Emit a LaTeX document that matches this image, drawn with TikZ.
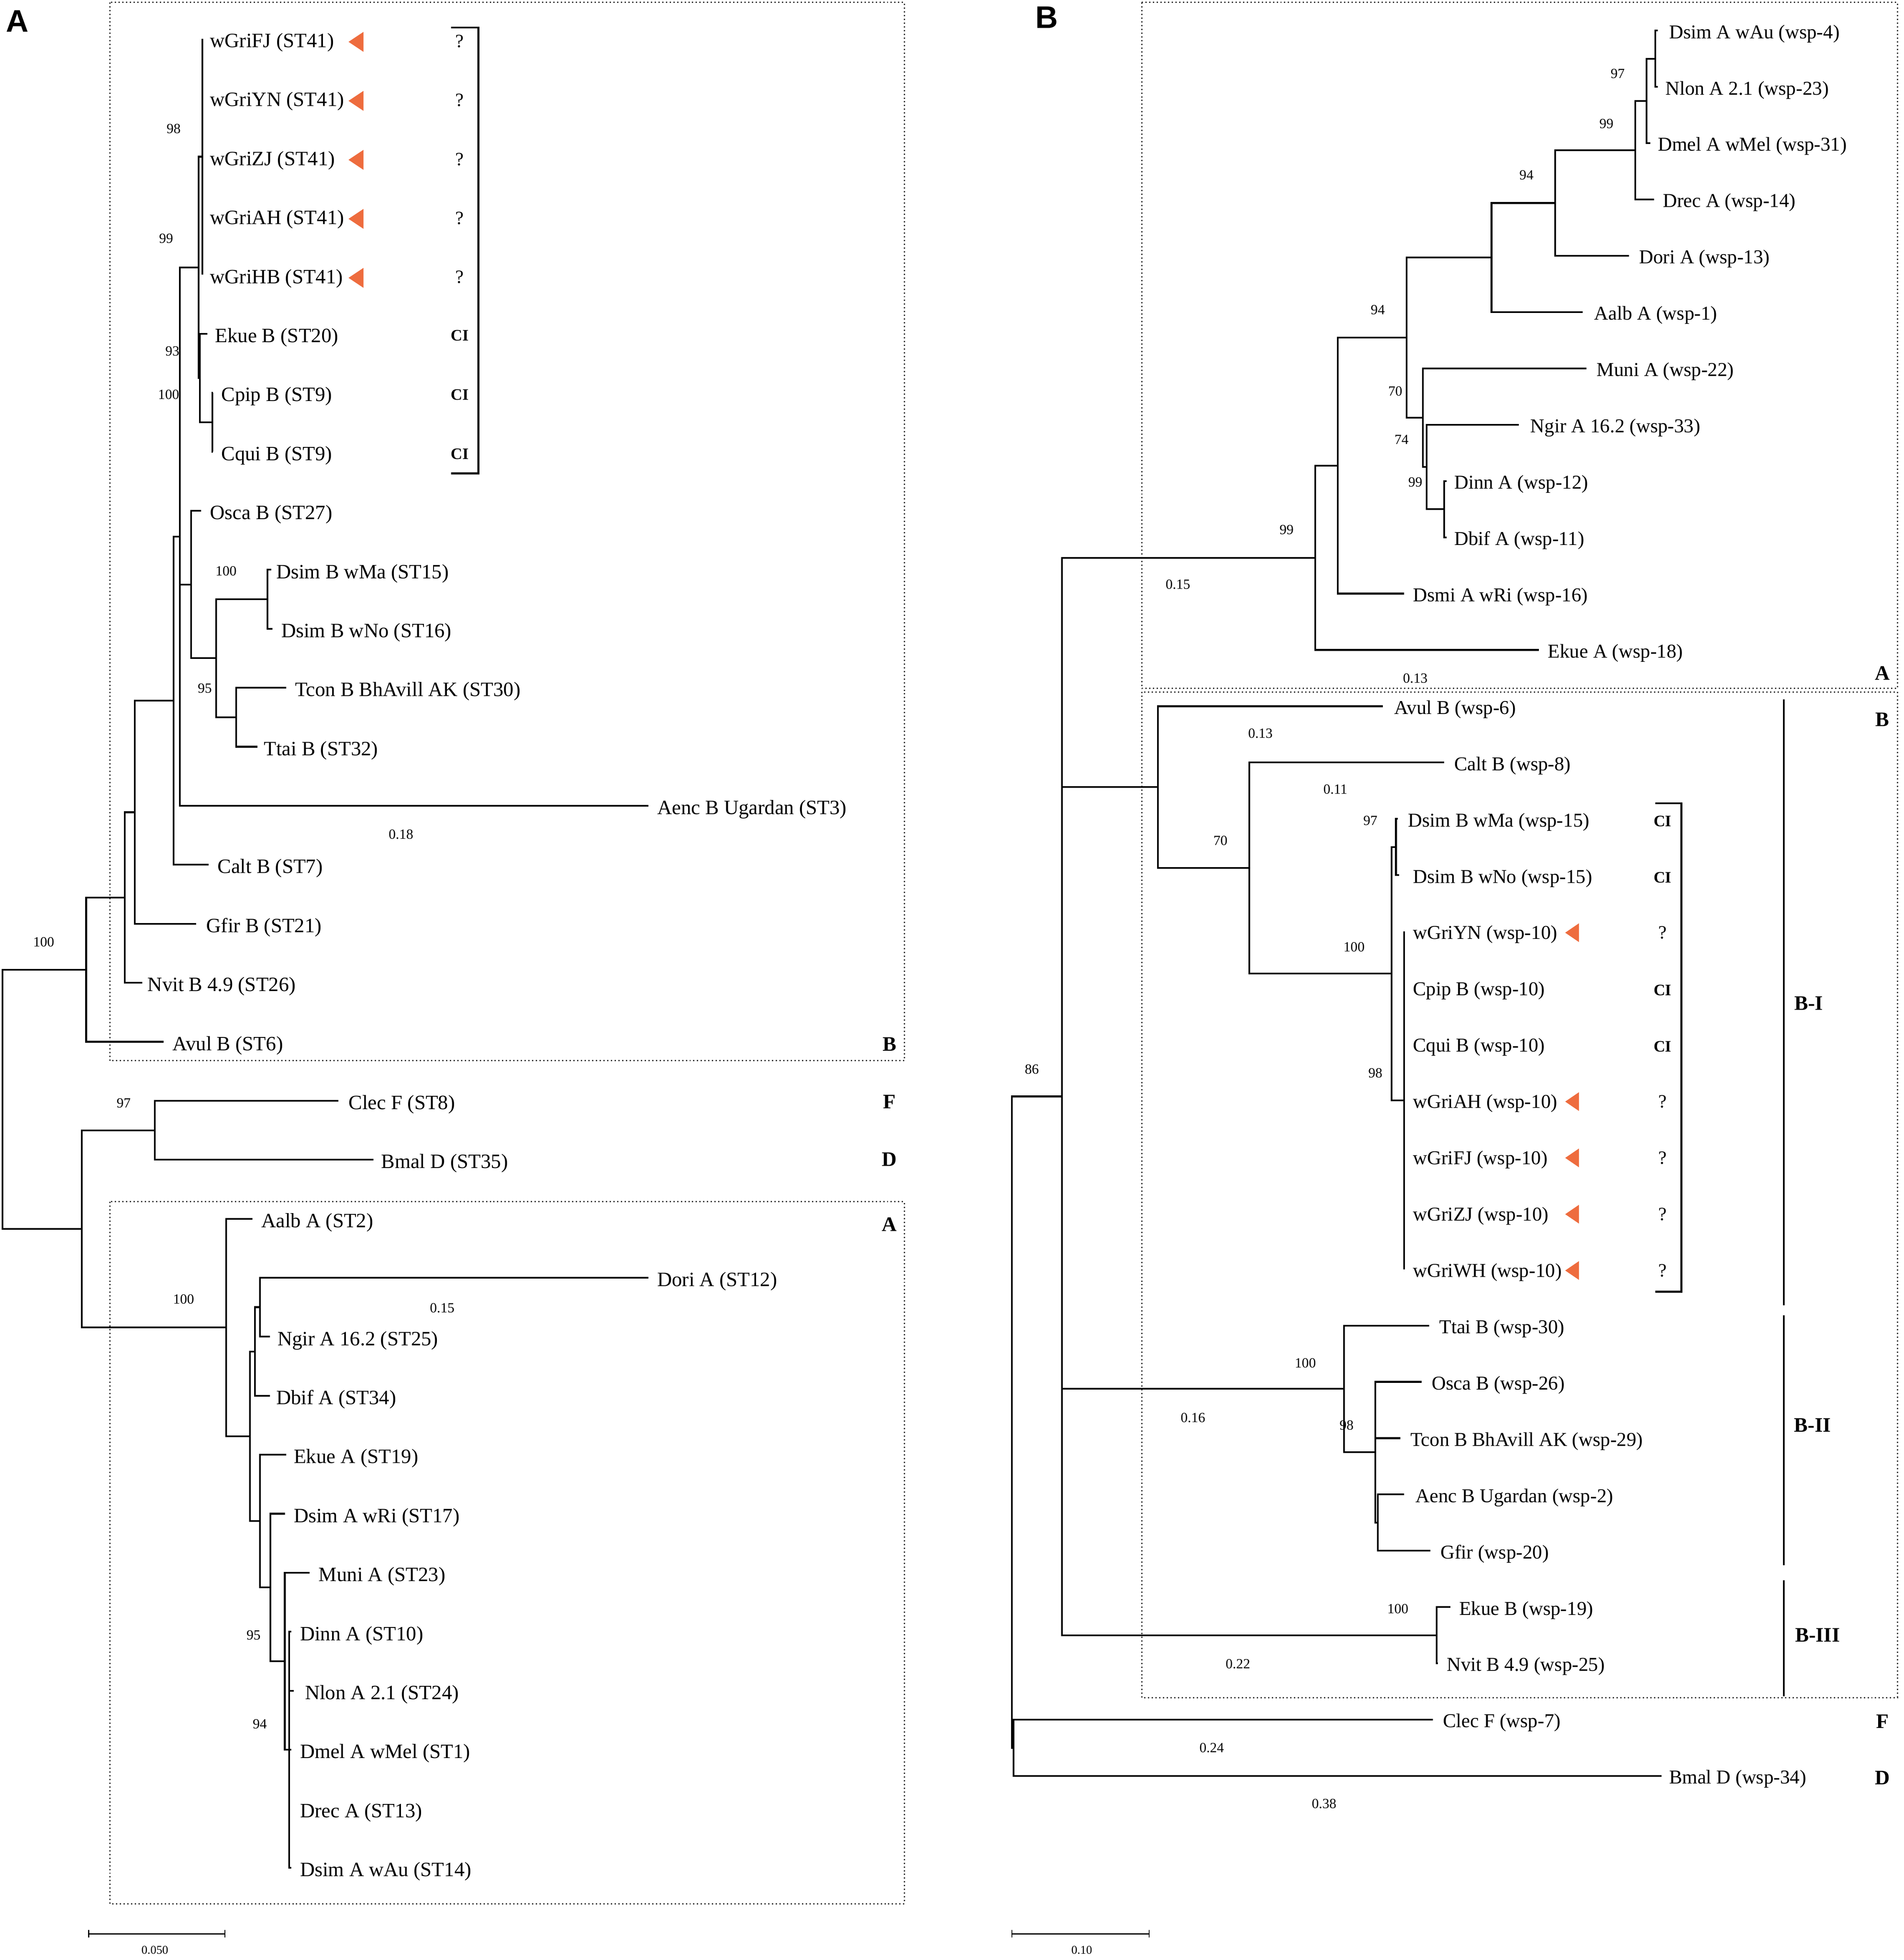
\documentclass[tikz,border=0pt]{standalone}
\usepackage{fontspec}
\setmainfont{Liberation Serif}
\newfontfamily\panelfont{Liberation Sans}
\definecolor{triorange}{HTML}{EE6C3E}
\tikzset{
  br/.style={line width=1.4pt, line join=miter},
  labA/.style={inner sep=0pt, anchor=west, font=\fontsize{16.3}{18}\selectfont},
  labB/.style={inner sep=0pt, anchor=west, font=\fontsize{15.7}{18}\selectfont},
  bs/.style={inner sep=0pt, font=\fontsize{11.2}{12}\selectfont},
  sclab/.style={inner sep=0pt, font=\fontsize{9.5}{10}\selectfont},
  cistyle/.style={inner sep=0pt, font=\bfseries\fontsize{12.8}{14}\selectfont},
  qm/.style={inner sep=0pt, font=\fontsize{15}{16}\selectfont},
  clade/.style={inner sep=0pt, font=\bfseries\fontsize{16.5}{18}\selectfont},
  tri/.style={fill=triorange, draw=none},
  dotbox/.style={line width=1pt, dash pattern=on 1pt off 2pt, draw=black!85},
  brk/.style={line width=1.5pt},
  panellab/.style={inner sep=0pt, font=\panelfont\bfseries\fontsize{25}{26}\selectfont},
}
\newcommand\mkleafA[5]{\coordinate (#1) at (#2,#4); \node[labA] (#1-t) at (#3,#4+3) {#5};}
\newcommand\mkleafB[5]{\coordinate (#1) at (#2,#4); \node[labB] (#1-t) at (#3,#4+2.5) {#5};}
\begin{document}
\begin{tikzpicture}[x=1pt,y=-1pt]
\useasboundingbox (0,0) rectangle (1524,1569);
% ================= PANEL A =================
\node[panellab] (pA) at (14,17) {A};
\draw[dotbox] (88,2) rectangle (724,849);
\draw[dotbox] (88,962) rectangle (724,1524);
% leaves
\mkleafA{aFJ}{162}{168}{31.00}{wGriFJ (ST41)}
\mkleafA{aYN}{162}{168}{78.23}{wGriYN (ST41)}
\mkleafA{aZJ}{162}{168}{125.46}{wGriZJ (ST41)}
\mkleafA{aAH}{162}{168}{172.69}{wGriAH (ST41)}
\mkleafA{aHB}{162}{168}{219.92}{wGriHB (ST41)}
\mkleafA{aEkB}{166}{172}{267.15}{Ekue B (ST20)}
\mkleafA{aCpip}{170.5}{177}{314.38}{Cpip B (ST9)}
\mkleafA{aCqui}{170.5}{177}{361.61}{Cqui B (ST9)}
\mkleafA{aOsca}{161}{168}{408.84}{Osca B (ST27)}
\mkleafA{aDwMa}{217}{221}{456.07}{Dsim B wMa (ST15)}
\mkleafA{aDwNo}{218}{225}{503.3}{Dsim B wNo (ST16)}
\mkleafA{aTcon}{229}{236}{550.53}{Tcon B BhAvill AK (ST30)}
\mkleafA{aTtai}{206}{211}{597.76}{Ttai B (ST32)}
\mkleafA{aAenc}{519}{526}{644.99}{Aenc B Ugardan (ST3)}
\mkleafA{aCalt}{167}{174}{692.22}{Calt B (ST7)}
\mkleafA{aGfir}{157}{165}{739.45}{Gfir B (ST21)}
\mkleafA{aNvit}{114}{118}{786.68}{Nvit B 4.9 (ST26)}
\mkleafA{aAvul}{131}{138}{833.91}{Avul B (ST6)}
\mkleafA{aClec}{271}{279}{881.14}{Clec F (ST8)}
\mkleafA{aBmal}{299}{305}{928.37}{Bmal D (ST35)}
\mkleafA{aAalb}{202}{209}{975.6}{Aalb A (ST2)}
\mkleafA{aDori}{519}{526}{1022.83}{Dori A (ST12)}
\mkleafA{aNgir}{216}{222}{1070.06}{Ngir A 16.2 (ST25)}
\mkleafA{aDbif}{216}{221}{1117.29}{Dbif A (ST34)}
\mkleafA{aEkA}{229}{235}{1164.52}{Ekue A (ST19)}
\mkleafA{awRi}{228}{235}{1211.75}{Dsim A wRi (ST17)}
\mkleafA{aMuni}{248}{255}{1258.98}{Muni A (ST23)}
\mkleafA{aDinn}{233}{240}{1306.21}{Dinn A (ST10)}
\mkleafA{aNlon}{235}{244}{1353.44}{Nlon A 2.1 (ST24)}
\mkleafA{aDmel}{233}{240}{1400.67}{Dmel A wMel (ST1)}
\mkleafA{aDrec}{232}{240}{1447.9}{Drec A (ST13)}
\mkleafA{awAu}{233}{240}{1495.13}{Dsim A wAu (ST14)}
% internal nodes
\coordinate (aR) at (2,880);
\coordinate (aN13) at (69,776.2);
\coordinate (aN12) at (100,718.4);
\coordinate (aN11) at (108,650.2);
\coordinate (aN6) at (139,560.9);
\coordinate (aN5) at (144,429.5);
\coordinate (aN2) at (159,214);
\coordinate (aN1) at (162,125.46);
\coordinate (aN3) at (160,302.6);
\coordinate (aN4) at (170,338);
\coordinate (aN7) at (153,467.9);
\coordinate (aN8) at (173,526.9);
\coordinate (aN9) at (214,479.7);
\coordinate (aN10) at (189,574.1);
\coordinate (aN14) at (65.5,983.7);
\coordinate (aN15) at (124,904.8);
\coordinate (aN16) at (181,1062.7);
\coordinate (aN17) at (200,1149.8);
\coordinate (aN18) at (204,1081.9);
\coordinate (aN19) at (208,1046.4);
\coordinate (aN20) at (208,1217.7);
\coordinate (aN21) at (216.5,1270.8);
\coordinate (aN22) at (228,1329.8);
\coordinate (aN23) at (231.5,1400.67);
\foreach \p/\c in {aR/aN13,aR/aN14,aN13/aN12,aN13/aAvul,aN12/aN11,aN12/aNvit,
  aN11/aN6,aN11/aGfir,aN6/aN5,aN6/aCalt,aN5/aN2,aN5/aN7,aN5/aAenc,
  aN2/aN1,aN2/aN3,aN1/aFJ,aN1/aYN,aN1/aZJ,aN1/aAH,aN1/aHB,
  aN3/aEkB,aN3/aN4,aN4/aCpip,aN4/aCqui,aN7/aOsca,aN7/aN8,aN8/aN9,aN8/aN10,
  aN9/aDwMa,aN9/aDwNo,aN10/aTcon,aN10/aTtai,
  aN14/aN15,aN14/aN16,aN15/aClec,aN15/aBmal,aN16/aAalb,aN16/aN17,
  aN17/aN18,aN17/aN20,aN18/aN19,aN18/aDbif,aN19/aDori,aN19/aNgir,
  aN20/aEkA,aN20/aN21,aN21/awRi,aN21/aN22,aN22/aMuni,aN22/aN23,
  aN23/aDinn,aN23/aNlon,aN23/aDmel,aN23/aDrec,aN23/awAu}
  {\draw[br] (\p) |- (\c);}
% support values
\node[bs] (aS1) at (139,103) {98};
\node[bs] (aS2) at (133,191) {99};
\node[bs] (aS3) at (138,281) {93};
\node[bs] (aS4) at (135,316) {100};
\node[bs] (aS5) at (181,457) {100};
\node[bs] (aS6) at (164,551) {95};
\node[bs] (aS7) at (321,668) {0.18};
\node[bs] (aS8) at (35,754) {100};
\node[bs] (aS9) at (99,883) {97};
\node[bs] (aS10) at (147,1040) {100};
\node[bs] (aS11) at (354,1047) {0.15};
\node[bs] (aS12) at (203,1309) {95};
\node[bs] (aS13) at (208,1380) {94};
% markers
\foreach \y in {31.00,78.23,125.46,172.69,219.92}
  {\fill[tri] (279,\y+2.5) -- ++(12,-8) -- ++(0,16) -- cycle;
   \node[qm] at (368,\y+2) {?};}
\node[cistyle] (aCI1) at (368,268.5) {CI};
\node[cistyle] (aCI2) at (368,316) {CI};
\node[cistyle] (aCI3) at (368,363.5) {CI};
\draw[brk] (361,22) -- (383,22) -- (383,379) -- (361,379);
% clade letters
\node[clade] (aLB) at (712,836) {B};
\node[clade] (aLF) at (712,882) {F};
\node[clade] (aLD) at (712,928) {D};
\node[clade] (aLA) at (712,980) {A};
% scale bar
\coordinate (asc1) at (71,1548);
\coordinate (asc2) at (180,1548);
\draw[line width=1pt] (asc1) -- (asc2);
\draw[line width=0.8pt] (asc1) ++(0,-3) -- ++(0,6);
\draw[line width=0.8pt] (asc2) ++(0,-3) -- ++(0,6);
\node[sclab] (ascl) at (124,1561) {0.050};
% ================= PANEL B =================
\node[panellab] (pB) at (838,14) {B};
\draw[dotbox] (914,2) rectangle (1519,551);
\draw[dotbox] (914,554) rectangle (1519,1359);
\mkleafB{bwAu}{1327}{1336}{24.5}{Dsim A wAu (wsp-4)}
\mkleafB{bNlon}{1327}{1333}{69.57}{Nlon A 2.1 (wsp-23)}
\mkleafB{bDmel}{1321}{1327}{114.64}{Dmel A wMel (wsp-31)}
\mkleafB{bDrec}{1324}{1331}{159.71}{Drec A (wsp-14)}
\mkleafB{bDori}{1304}{1312}{204.78}{Dori A (wsp-13)}
\mkleafB{bAalb}{1267}{1276}{249.85}{Aalb A (wsp-1)}
\mkleafB{bMuni}{1270}{1278}{294.92}{Muni A (wsp-22)}
\mkleafB{bNgir}{1216}{1225}{339.99}{Ngir A 16.2 (wsp-33)}
\mkleafB{bDinn}{1158}{1164}{385.06}{Dinn A (wsp-12)}
\mkleafB{bDbif}{1158}{1164}{430.13}{Dbif A (wsp-11)}
\mkleafB{bDsmi}{1124}{1131}{475.2}{Dsmi A wRi (wsp-16)}
\mkleafB{bEkA}{1232}{1239}{520.27}{Ekue A (wsp-18)}
\mkleafB{bAvul}{1107}{1116}{565.34}{Avul B (wsp-6)}
\mkleafB{bCalt}{1156}{1164}{610.41}{Calt B (wsp-8)}
\mkleafB{bwMa}{1119}{1127}{655.48}{Dsim B wMa (wsp-15)}
\mkleafB{bwNo}{1120}{1131}{700.55}{Dsim B wNo (wsp-15)}
\mkleafB{bYN}{1124}{1131}{745.62}{wGriYN (wsp-10)}
\mkleafB{bCpip}{1124}{1131}{790.69}{Cpip B (wsp-10)}
\mkleafB{bCqui}{1124}{1131}{835.76}{Cqui B (wsp-10)}
\mkleafB{bAH}{1124}{1131}{880.83}{wGriAH (wsp-10)}
\mkleafB{bFJ}{1124}{1131}{925.9}{wGriFJ (wsp-10)}
\mkleafB{bZJ}{1124}{1131}{970.97}{wGriZJ (wsp-10)}
\mkleafB{bWH}{1124}{1131}{1016.04}{wGriWH (wsp-10)}
\mkleafB{bTtai}{1144}{1152}{1061.11}{Ttai B (wsp-30)}
\mkleafB{bOsca}{1138}{1146}{1106.18}{Osca B (wsp-26)}
\mkleafB{bTcon}{1121}{1129}{1151.25}{Tcon B BhAvill AK (wsp-29)}
\mkleafB{bAenc}{1124}{1133}{1196.32}{Aenc B Ugardan (wsp-2)}
\mkleafB{bGfir}{1145}{1153}{1241.39}{Gfir (wsp-20)}
\mkleafB{bEkB}{1161}{1168}{1286.46}{Ekue B (wsp-19)}
\mkleafB{bNvit}{1151}{1158}{1331.53}{Nvit B 4.9 (wsp-25)}
\mkleafB{bClec}{1147}{1155}{1376.6}{Clec F (wsp-7)}
\mkleafB{bBmal}{1330}{1336}{1421.67}{Bmal D (wsp-34)}
\coordinate (bR) at (810,1138.4);
\coordinate (bX) at (811.5,1399.1);
\coordinate (bM12) at (850,877.7);
\coordinate (bM11) at (1053,446.5);
\coordinate (bM10) at (1071,372.8);
\coordinate (bM6) at (1126,270.3);
\coordinate (bM5) at (1194,206.2);
\coordinate (bM4) at (1245,162.5);
\coordinate (bM3) at (1309,120.3);
\coordinate (bM2) at (1318,80.8);
\coordinate (bM1) at (1325,47.0);
\coordinate (bM7) at (1139,334.4);
\coordinate (bM8) at (1142,373.8);
\coordinate (bM9) at (1156,407.6);
\coordinate (bM13) at (927,630.1);
\coordinate (bM14) at (1000,694.9);
\coordinate (bM15) at (1114,779.4);
\coordinate (bM16) at (1117.5,678);
\coordinate (bM17) at (1124,880.83);
\coordinate (bM18) at (1076,1111.8);
\coordinate (bM19) at (1101,1162.5);
\coordinate (bM20) at (1103,1218.9);
\coordinate (bM21) at (1150,1309);
\foreach \p/\c in {bR/bM12,bR/bX,bX/bClec,bX/bBmal,
  bM12/bM11,bM12/bM13,bM12/bM18,bM12/bM21,
  bM11/bM10,bM11/bEkA,bM10/bM6,bM10/bDsmi,bM6/bM5,bM6/bM7,
  bM5/bM4,bM5/bAalb,bM4/bM3,bM4/bDori,bM3/bM2,bM3/bDrec,bM2/bM1,bM2/bDmel,
  bM1/bwAu,bM1/bNlon,bM7/bMuni,bM7/bM8,bM8/bNgir,bM8/bM9,bM9/bDinn,bM9/bDbif,
  bM13/bAvul,bM13/bM14,bM14/bCalt,bM14/bM15,bM15/bM16,bM15/bM17,
  bM16/bwMa,bM16/bwNo,bM17/bYN,bM17/bCpip,bM17/bCqui,bM17/bAH,bM17/bFJ,bM17/bZJ,bM17/bWH,
  bM18/bTtai,bM18/bM19,bM19/bOsca,bM19/bTcon,bM19/bM20,bM20/bAenc,bM20/bGfir,
  bM21/bEkB,bM21/bNvit}
  {\draw[br] (\p) |- (\c);}
% support values
\node[bs] (bS1) at (1295,59) {97};
\node[bs] (bS2) at (1286,99) {99};
\node[bs] (bS3) at (1222,140) {94};
\node[bs] (bS4) at (1103,248) {94};
\node[bs] (bS5) at (1117,313) {70};
\node[bs] (bS6) at (1122,352) {74};
\node[bs] (bS7) at (1133,386) {99};
\node[bs] (bS8) at (1030,424) {99};
\node[bs] (bS9) at (943,468) {0.15};
\node[bs] (bS10) at (1133,543) {0.13};
\node[bs] (bS11) at (1009,587) {0.13};
\node[bs] (bS12) at (1069,632) {0.11};
\node[bs] (bS13) at (977,673) {70};
\node[bs] (bS14) at (1097,657) {97};
\node[bs] (bS15) at (1084,758) {100};
\node[bs] (bS16) at (1101,859) {98};
\node[bs] (bS17) at (826,856) {86};
\node[bs] (bS18) at (1045,1091) {100};
\node[bs] (bS19) at (955,1135) {0.16};
\node[bs] (bS20) at (1078,1141) {98};
\node[bs] (bS21) at (1119,1288) {100};
\node[bs] (bS22) at (991,1332) {0.22};
\node[bs] (bS23) at (970,1399) {0.24};
\node[bs] (bS24) at (1060,1444) {0.38};
% markers
\foreach \y in {745.62,880.83,925.9,970.97,1016.04}
  {\fill[tri] (1253,\y+1) -- ++(11,-7.5) -- ++(0,15) -- cycle;
   \node[qm] at (1331,\y+1) {?};}
\foreach \y/\n in {655.48/1,700.55/2,790.69/3,835.76/4}
  {\node[cistyle] (bCI\n) at (1331,\y+2) {CI};}
\draw[brk] (1325,643) -- (1346,643) -- (1346,1034) -- (1325,1034);
% clade bars
\draw[brk] (1428,560) -- (1428,1045);
\draw[brk] (1428,1053) -- (1428,1253);
\draw[brk] (1428,1265) -- (1428,1358);
\node[clade] (bLBI) at (1448,803) {B-I};
\node[clade] (bLBII) at (1451,1141) {B-II};
\node[clade] (bLBIII) at (1455,1309) {B-III};
\node[clade] (bLA) at (1507,539) {A};
\node[clade] (bLB) at (1507,576) {B};
\node[clade] (bLF) at (1507,1378) {F};
\node[clade] (bLD) at (1507,1423) {D};
% scale bar
\coordinate (bsc1) at (810,1548);
\coordinate (bsc2) at (920,1548);
\draw[line width=1pt] (bsc1) -- (bsc2);
\draw[line width=0.8pt] (bsc1) ++(0,-3) -- ++(0,6);
\draw[line width=0.8pt] (bsc2) ++(0,-3) -- ++(0,6);
\node[sclab] (bscl) at (866,1561) {0.10};
\end{tikzpicture}
\end{document}
